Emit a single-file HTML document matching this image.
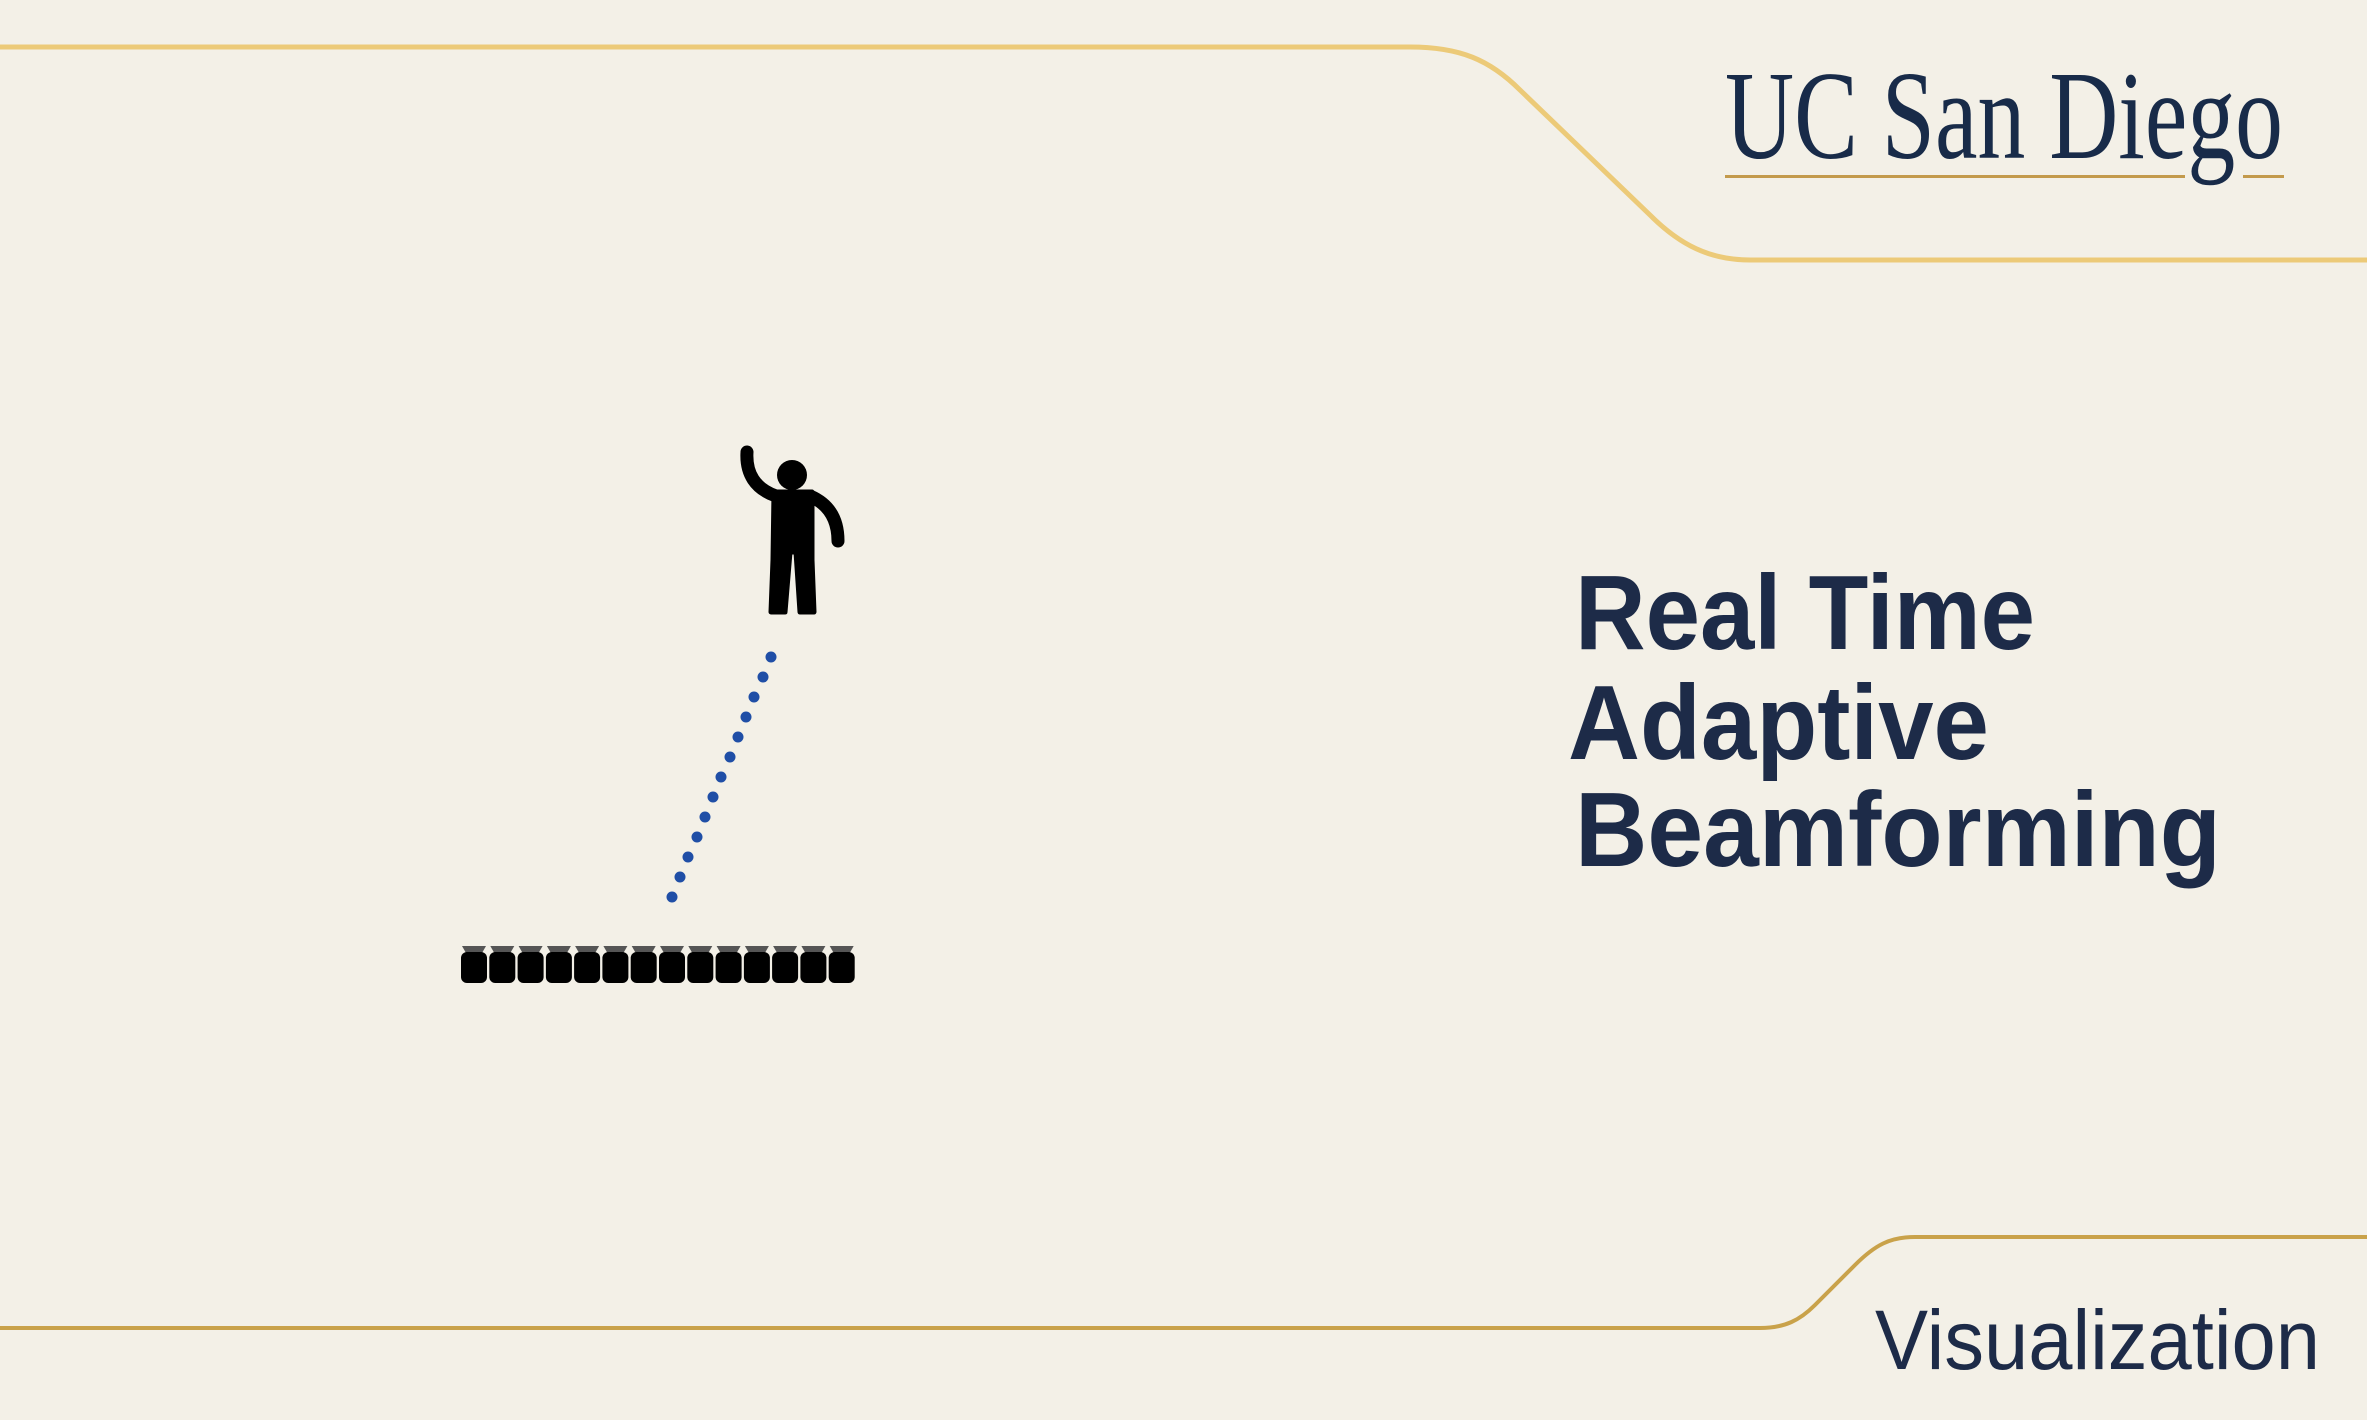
<!DOCTYPE html>
<html><head><meta charset="utf-8"><style>
html,body{margin:0;padding:0;background:#f3f0e7;}
svg{display:block}
</style></head><body>
<svg width="2367" height="1420" viewBox="0 0 2367 1420" xmlns="http://www.w3.org/2000/svg">
<rect width="2367" height="1420" fill="#f3f0e7"/>
<path d="M0 47 H1410 C1460 47 1490 60 1520 90 L1650 215 C1680 245 1710 260 1750 260 H2367" fill="none" stroke="#ecca78" stroke-width="5"/>
<path d="M0 1328 H1760 C1785 1328 1800 1320 1815 1305 L1855 1265 C1875 1245 1890 1237 1915 1237 H2367" fill="none" stroke="#c9a24a" stroke-width="4"/>
<text x="1725" y="158" font-family="Liberation Serif, serif" font-size="126" fill="#182b49" textLength="558" lengthAdjust="spacingAndGlyphs">UC San Diego</text>
<rect x="1725" y="175" width="460" height="3" fill="#c39a4c"/>
<rect x="2243" y="175" width="41" height="3" fill="#c39a4c"/>
<g font-family="Liberation Sans, sans-serif" font-weight="bold" fill="#1d2b48" font-size="106">
<text x="1575" y="649" textLength="460" lengthAdjust="spacingAndGlyphs">Real Time</text>
<text x="1568" y="759" textLength="421" lengthAdjust="spacingAndGlyphs">Adaptive</text>
<text x="1575" y="866" textLength="646" lengthAdjust="spacingAndGlyphs">Beamforming</text>
</g>
<text x="1875" y="1369" font-family="Liberation Sans, sans-serif" font-size="84" fill="#1d2b48" textLength="445" lengthAdjust="spacingAndGlyphs">Visualization</text>
<g fill="#000" stroke="#000" stroke-linecap="round" stroke-linejoin="round">
<circle cx="792" cy="475" r="15" stroke="none"/>
<path d="M747 452 Q745 485 776 496" fill="none" stroke-width="13"/>
<path d="M810 496 Q838 508 838 541" fill="none" stroke-width="13"/>
<path d="M774 492 H812 V545 L812 560 L814 612 H800 L796 552 L790 552 L785 612 H771 L773 560 Z" stroke-width="5"/>
</g>
<g fill="#1f4ea6">
<circle cx="771" cy="657" r="5.5"/><circle cx="763" cy="677" r="5.5"/><circle cx="754" cy="697" r="5.5"/><circle cx="746" cy="717" r="5.5"/><circle cx="738" cy="737" r="5.5"/><circle cx="730" cy="757" r="5.5"/><circle cx="721" cy="777" r="5.5"/><circle cx="713" cy="797" r="5.5"/><circle cx="705" cy="817" r="5.5"/><circle cx="697" cy="837" r="5.5"/><circle cx="688" cy="857" r="5.5"/><circle cx="680" cy="877" r="5.5"/><circle cx="672" cy="897" r="5.5"/>
</g>
<g>
<g transform="translate(460,0)"><path d="M2 946 H26 L22 953 H6 Z" fill="#555"/><rect x="1" y="952" width="26" height="31" rx="6" fill="#000"/></g>
<g transform="translate(488.3,0)"><path d="M2 946 H26 L22 953 H6 Z" fill="#555"/><rect x="1" y="952" width="26" height="31" rx="6" fill="#000"/></g>
<g transform="translate(516.6,0)"><path d="M2 946 H26 L22 953 H6 Z" fill="#555"/><rect x="1" y="952" width="26" height="31" rx="6" fill="#000"/></g>
<g transform="translate(544.9,0)"><path d="M2 946 H26 L22 953 H6 Z" fill="#555"/><rect x="1" y="952" width="26" height="31" rx="6" fill="#000"/></g>
<g transform="translate(573.1,0)"><path d="M2 946 H26 L22 953 H6 Z" fill="#555"/><rect x="1" y="952" width="26" height="31" rx="6" fill="#000"/></g>
<g transform="translate(601.4,0)"><path d="M2 946 H26 L22 953 H6 Z" fill="#555"/><rect x="1" y="952" width="26" height="31" rx="6" fill="#000"/></g>
<g transform="translate(629.7,0)"><path d="M2 946 H26 L22 953 H6 Z" fill="#555"/><rect x="1" y="952" width="26" height="31" rx="6" fill="#000"/></g>
<g transform="translate(658,0)"><path d="M2 946 H26 L22 953 H6 Z" fill="#555"/><rect x="1" y="952" width="26" height="31" rx="6" fill="#000"/></g>
<g transform="translate(686.3,0)"><path d="M2 946 H26 L22 953 H6 Z" fill="#555"/><rect x="1" y="952" width="26" height="31" rx="6" fill="#000"/></g>
<g transform="translate(714.6,0)"><path d="M2 946 H26 L22 953 H6 Z" fill="#555"/><rect x="1" y="952" width="26" height="31" rx="6" fill="#000"/></g>
<g transform="translate(742.9,0)"><path d="M2 946 H26 L22 953 H6 Z" fill="#555"/><rect x="1" y="952" width="26" height="31" rx="6" fill="#000"/></g>
<g transform="translate(771.1,0)"><path d="M2 946 H26 L22 953 H6 Z" fill="#555"/><rect x="1" y="952" width="26" height="31" rx="6" fill="#000"/></g>
<g transform="translate(799.4,0)"><path d="M2 946 H26 L22 953 H6 Z" fill="#555"/><rect x="1" y="952" width="26" height="31" rx="6" fill="#000"/></g>
<g transform="translate(827.7,0)"><path d="M2 946 H26 L22 953 H6 Z" fill="#555"/><rect x="1" y="952" width="26" height="31" rx="6" fill="#000"/></g>
</g>
</svg>
</body></html>
